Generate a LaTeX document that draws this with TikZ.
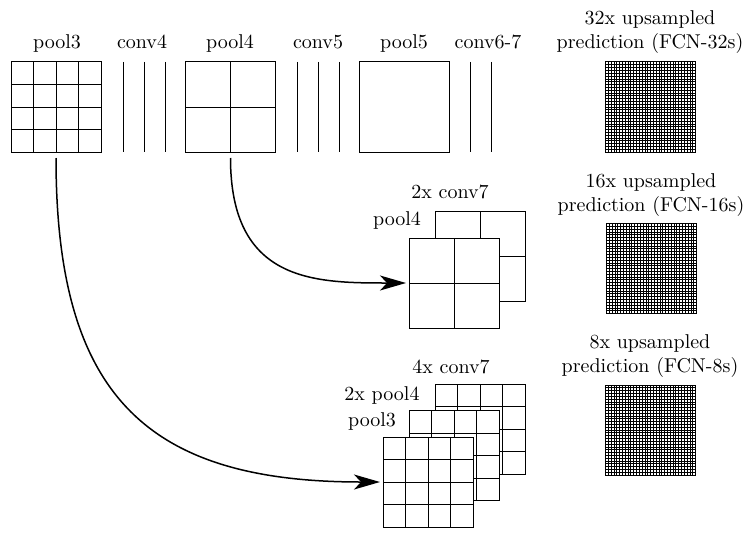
\documentclass[tikz,border=0pt]{standalone}
\usetikzlibrary{calc,arrows.meta}
\newcommand\splitbox[3][]{%
  \pgfmathtruncatemacro\splitn{#3-1}%
  \foreach \k in {1,...,\splitn}{%
    \draw[#1] ($(#2.north west)!{\k/#3}!(#2.north east)$) -- ($(#2.south west)!{\k/#3}!(#2.south east)$);
    \draw[#1] ($(#2.north west)!{\k/#3}!(#2.south west)$) -- ($(#2.north east)!{\k/#3}!(#2.south east)$);
  }}
\tikzset{
  fmap/.style={draw, line width=0.5pt, minimum size=45pt, inner sep=0pt, outer sep=0pt, fill=white},
  thin line/.style={line width=0.5pt},
  fine line/.style={line width=0.35pt},
  lbl/.style={anchor=base, inner sep=0pt},
  lbl2/.style={anchor=south, inner sep=0pt, align=center},
  skip/.style={line width=0.75pt, -{Stealth[length=13pt,width=7.5pt,inset=3.5pt]}, shorten <=3pt, shorten >=1.5pt}
}
\begin{document}
\begin{tikzpicture}[x=0.5pt,y=-0.5pt]
\useasboundingbox (0,0) rectangle (747,535);

% top row
\node[fmap] (p3) at (56,107) {};
\splitbox[thin line]{p3}{4}
\foreach \x [count=\i] in {123,144,165}{\draw[thin line] (\x,62) coordinate (c4t\i) -- (\x,152);}
\node[fmap] (p4) at (230.5,107) {};
\splitbox[thin line]{p4}{2}
\foreach \x [count=\i] in {297,318,339}{\draw[thin line] (\x,62) coordinate (c5t\i) -- (\x,152);}
\node[fmap] (p5) at (404,107) {};
\foreach \x [count=\i] in {470,491}{\draw[thin line] (\x,62) coordinate (c67t\i) -- (\x,152);}

\node[lbl] (lp3) at (57,49) {pool3};
\node[lbl] (lc4) at (142,49) {conv4};
\node[lbl] (lp4) at (230,49) {pool4};
\node[lbl] (lc5) at (318,49) {conv5};
\node[lbl] (lp5) at (404,49) {pool5};
\node[lbl] (lc67) at (488,49) {conv6-7};

% predictions
\node[fmap] (o32) at (650.5,107) {};
\splitbox[fine line]{o32}{32}
\node[lbl2] (l32) at (650,54) {32x upsampled\\prediction (FCN-32s)};
\node[fmap] (o16) at (651.5,268.5) {};
\splitbox[fine line]{o16}{32}
\node[lbl2] (l16) at (651,217) {16x upsampled\\prediction (FCN-16s)};
\node[fmap] (o8) at (650.5,430) {};
\splitbox[fine line]{o8}{32}
\node[lbl2] (l8) at (650,378) {8x upsampled\\prediction (FCN-8s)};

% FCN-16s stack
\node[fmap] (s16b) at (480.5,256.5) {};
\splitbox[thin line]{s16b}{2}
\node[fmap] (s16f) at (454,283) {};
\splitbox[thin line]{s16f}{2}
\node[lbl] (l16a) at (450,198) {2x conv7};
\node[lbl] (l16b) at (397,225) {pool4};

% FCN-8s stack
\node[fmap] (s8b) at (480,429) {};
\splitbox[thin line]{s8b}{4}
\node[fmap] (s8m) at (454,455.5) {};
\splitbox[thin line]{s8m}{4}
\node[fmap] (s8f) at (428,482) {};
\splitbox[thin line]{s8f}{4}
\node[lbl] (l8a) at (451,373) {4x conv7};
\node[lbl] (l8b) at (382,400) {2x pool4};
\node[lbl] (l8c) at (372,426) {pool3};

% skip connections
\draw[skip] (p4.south) .. controls +(0,130) and +(-95,0) .. (s16f.west);
\draw[skip] (p3.south) .. controls +(0,245) and +(-235,0) .. (s8f.west);
\end{tikzpicture}
\end{document}
